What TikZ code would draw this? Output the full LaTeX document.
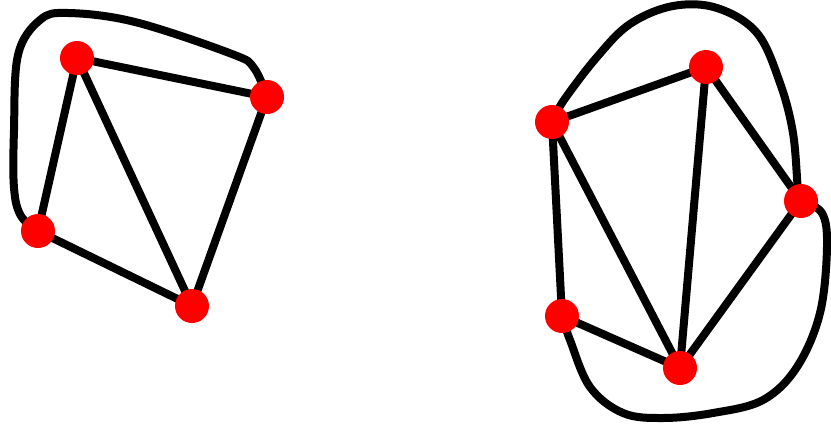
\documentclass[tikz,border=0pt]{standalone}
\usetikzlibrary{backgrounds}
\begin{document}
\begin{tikzpicture}[x=1pt,y=-1pt,
  vertex/.style={circle,fill=red,draw=none,minimum size=34pt,inner sep=0pt},
  edge/.style={line width=8pt,black,line cap=round,line join=round}]
\useasboundingbox (0,0) rectangle (831,426);
% left graph
\node[vertex] (A) at (77,58) {};
\node[vertex] (B) at (267,97) {};
\node[vertex] (C) at (38,231) {};
\node[vertex] (D) at (192,306) {};
% right graph
\node[vertex] (E) at (552,122) {};
\node[vertex] (F) at (706,67) {};
\node[vertex] (G) at (801,201) {};
\node[vertex] (H) at (562,316) {};
\node[vertex] (I) at (680,368) {};
\begin{scope}[on background layer]
\draw[edge] (A.center) -- (B.center);
\draw[edge] (A.center) -- (C.center);
\draw[edge] (A.center) -- (D.center);
\draw[edge] (B.center) -- (D.center);
\draw[edge] (C.center) -- (D.center);
\draw[edge] plot[smooth,tension=0.6] coordinates {(C.center) (21,216) (14,188) (14,130) (18,55) (40,20) (68,13) (135,22) (232,54) (254,68) (B.center)};
\draw[edge] (E.center) -- (F.center);
\draw[edge] (E.center) -- (H.center);
\draw[edge] (E.center) -- (I.center);
\draw[edge] (F.center) -- (I.center);
\draw[edge] (F.center) -- (G.center);
\draw[edge] (G.center) -- (I.center);
\draw[edge] (H.center) -- (I.center);
\draw[edge] plot[smooth,tension=0.6] coordinates {(E.center) (564,100) (597,57) (630,24) (673,6) (717,8) (757,33) (780,83) (793,133) (798,190) (G.center)};
\draw[edge] plot[smooth,tension=0.6] coordinates {(G.center) (822,213) (827,247) (820,313) (797,367) (763,400) (713,413) (663,418) (623,413) (590,387) (570,340) (H.center)};
\end{scope}
\end{tikzpicture}
\end{document}
